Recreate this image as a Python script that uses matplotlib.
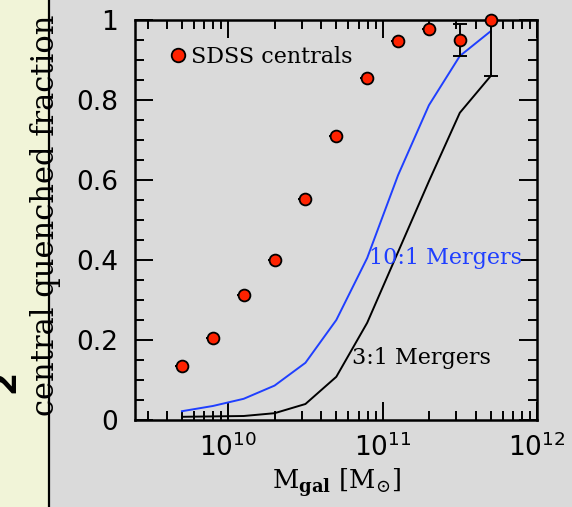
import numpy as np
import matplotlib.pyplot as plt
import matplotlib.patches as patches

# stellar mass bins (log10 Msun) and the SDSS central quenched fractions
logm_sdss = [9.7, 9.9, 10.1, 10.3, 10.5, 10.7, 10.9, 11.1, 11.3, 11.5, 11.7]
frac_sdss = [0.135, 0.205, 0.312, 0.40, 0.553, 0.71, 0.855, 0.948, 0.977, 0.95, 1.0]
err_lo = [0, 0, 0, 0, 0, 0, 0, 0, 0, 0.039, 0.14]
err_hi = [0, 0, 0, 0, 0, 0, 0, 0, 0, 0.04, 0.0]

# model predictions for the two merger-ratio thresholds
logm_model = [9.7, 9.9, 10.1, 10.3, 10.5, 10.7, 10.9, 11.1, 11.3, 11.5, 11.7]
frac_10to1 = [0.022, 0.035, 0.053, 0.086, 0.143, 0.25, 0.405, 0.612, 0.787, 0.91, 0.972]
frac_3to1 = [0.008, 0.009, 0.010, 0.017, 0.04, 0.108, 0.243, 0.42, 0.597, 0.768, 0.86]

mass_sdss = 10 ** np.array(logm_sdss)
mass_model = 10 ** np.array(logm_model)

red = '#ff2200'
blue = '#1f3fff'
bg = '#dadada'
serif = 'DejaVu Serif'

plt.rcParams['mathtext.fontset'] = 'dejavuserif'

fig = plt.figure(figsize=(5.72, 5.07), dpi=100)
fig.patch.set_facecolor(bg)

# pale side panel with its border line
fig.patches.append(patches.Rectangle((0, 0), 49 / 572, 1, transform=fig.transFigure,
                                     facecolor='#f1f4d8', edgecolor='none', zorder=0))
fig.lines.append(plt.Line2D([49 / 572, 49 / 572], [0, 1], transform=fig.transFigure,
                            color='black', lw=1.6, zorder=1))
fig.text(-12 / 572, 1 - 381 / 507, '2', rotation=90, fontsize=24, fontweight='bold',
         ha='left', va='center', family='DejaVu Sans')

ax = fig.add_axes([135 / 572, 1 - 420 / 507, 402 / 572, 400 / 507])
ax.set_facecolor(bg)

ax.plot(mass_model, frac_10to1, color=blue, lw=1.4, zorder=2)
ax.plot(mass_model, frac_3to1, color='black', lw=1.4, zorder=2)
ax.errorbar(mass_sdss, frac_sdss, yerr=[err_lo, err_hi], fmt='none', ecolor='black',
            elinewidth=1.4, capsize=5, capthick=1.4, zorder=3)
ax.plot(mass_sdss, frac_sdss, 'o', color=red, mec='black', mew=1.3, ms=8.5, zorder=4,
        clip_on=False, label='SDSS centrals')

ax.set_xscale('log')
ax.set_xlim(10 ** 9.396, 1e12)
ax.set_ylim(0, 1)
ax.set_xticks([1e10, 1e11, 1e12])
ax.set_yticks([0, 0.2, 0.4, 0.6, 0.8, 1])
ax.set_yticklabels(['0', '0.2', '0.4', '0.6', '0.8', '1'])
ax.set_yticks(np.arange(0, 1.0001, 0.05), minor=True)
ax.tick_params(which='both', direction='in', top=True, right=True, width=1.4,
               labelsize=19, colors='black')
ax.tick_params(which='major', length=13, pad=12)
ax.tick_params(which='minor', length=6.5)
ax.tick_params(axis='x', pad=10)
for s in ax.spines.values():
    s.set_linewidth(1.8)

ax.text(10 ** 10.915, 0.405, '10:1 Mergers', color=blue, fontsize=16, family=serif,
        va='center', ha='left')
ax.text(10 ** 10.80, 0.155, '3:1 Mergers', color='black', fontsize=16, family=serif,
        va='center', ha='left')

leg = ax.legend(loc='upper left', bbox_to_anchor=(0.068, 0.957), frameon=False,
                handlelength=0.6, handletextpad=0.3, markerscale=1.15,
                prop={'family': serif, 'size': 16}, borderaxespad=0)

ax.set_xlabel(r'$\mathrm{M}_{\mathbf{gal}}\ [\mathrm{M}_{\odot}]$', fontsize=18.5, labelpad=3)
fig.text(46 / 572, 1 - 215 / 507, 'central quenched fraction', rotation=90,
         fontsize=22, family=serif, ha='center', va='center')

fig.savefig('out.png', dpi=100, facecolor=bg)
